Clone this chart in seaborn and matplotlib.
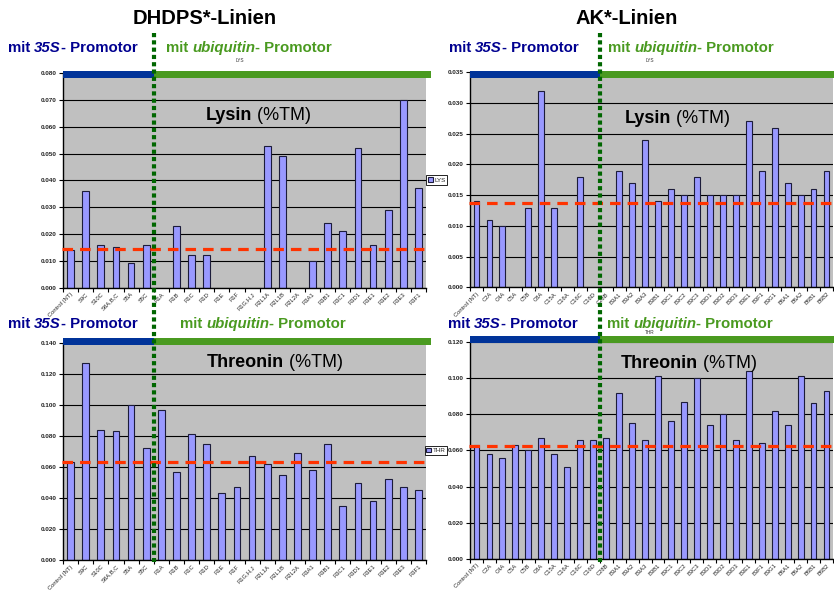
import numpy as np
import pandas as pd
import matplotlib
matplotlib.use("Agg")
import matplotlib.pyplot as plt
import matplotlib.transforms as mtransforms
from matplotlib.lines import Line2D
from matplotlib.patches import Patch
import seaborn as sns

# ---------------- data ----------------
dhdps_lines = ["Control (NT)", "S9C", "S10C", "S8A,B,C", "S5A", "S5C",
               "R1A", "R1B", "R1C", "R1D", "R1E", "R1F", "R1G,H,J",
               "R2L1A", "R2L1B", "R2L2A", "R3A1", "R3B1", "R3C1", "R3D1",
               "R3E1", "R3E2", "R3E3", "R3F1"]
dhdps_lys = [0.014, 0.036, 0.016, 0.015, 0.009, 0.016,
             np.nan, 0.023, 0.012, 0.012, np.nan, np.nan, np.nan,
             0.053, 0.049, np.nan, 0.010, 0.024, 0.021, 0.052,
             0.016, 0.029, 0.070, 0.037]
dhdps_thr = [0.063, 0.127, 0.084, 0.083, 0.100, 0.072,
             0.097, 0.057, 0.081, 0.075, 0.043, 0.047, 0.067,
             0.062, 0.055, 0.069, 0.058, 0.075, 0.035, 0.050,
             0.038, 0.052, 0.047, 0.045]

ak_lines = ["Control (NT)", "C2A", "C4A", "C5A", "C5B", "C8A", "C15A",
            "C16A", "C16C", "C16D", "C28B", "B3A1", "B3A2", "B3A3", "B3B1",
            "B3C1", "B3C2", "B3C3", "B3D1", "B3D2", "B3D3", "B3E1", "B3F1",
            "B3G1", "B6A1", "B6A2", "B6B1", "B6B2"]
ak_lys = [0.014, 0.011, 0.010, np.nan, 0.013, 0.032, 0.013,
          np.nan, 0.018, np.nan, np.nan, 0.019, 0.017, 0.024, 0.014,
          0.016, 0.015, 0.018, 0.015, 0.015, 0.015, 0.027, 0.019,
          0.026, 0.017, 0.015, 0.016, 0.019]
ak_thr = [0.063, 0.058, 0.056, 0.063, 0.060, 0.067, 0.058,
          0.051, 0.066, 0.066, 0.067, 0.092, 0.075, 0.066, 0.101,
          0.076, 0.087, 0.100, 0.074, 0.080, 0.066, 0.104, 0.064,
          0.082, 0.074, 0.101, 0.086, 0.093]

# control reference levels (dashed lines)
ref_dhdps_lys = 0.0143
ref_dhdps_thr = 0.063
ref_ak_lys = 0.0138
ref_ak_thr = 0.0625

# boundary between 35S lines (incl. control) and ubiquitin lines
split_dhdps = 5.5
split_ak = 9.5

# ---------------- style ----------------
W, H = 834, 592
FONT = "Liberation Sans"
sns.set_theme(style="white")
plt.rcParams["font.family"] = [FONT, "DejaVu Sans"]

BAR = "#9999ff"
BAR_EDGE = "#1c1c3a"
PLOT_BG = "#c0c0c0"
BLUE_BAND = "#003399"
GREEN_BAND = "#4a9a20"
BLUE_TXT = "#000090"
GREEN_TXT = "#4a9a20"
REF_RED = "#ff3300"
DOT_GREEN = "#006600"

fig = plt.figure(figsize=(W / 100, H / 100), dpi=100)
fig.patch.set_facecolor("white")


def px_axes(x0, y0, x1, y1):
    """axes from pixel box (top-left origin)"""
    return fig.add_axes([x0 / W, 1 - y1 / H, (x1 - x0) / W, (y1 - y0) / H])


def bar_panel(ax, names, values, ymax, step, ref, split, leg_label=None,
              band=(0.978, 1.01)):
    df = pd.DataFrame({"line": names, "value": values})
    sns.barplot(data=df, x="line", y="value", order=names, ax=ax,
                color=BAR, edgecolor=BAR_EDGE, linewidth=0.8, width=0.45,
                errorbar=None, saturation=1)
    n = len(names)
    ax.set_facecolor(PLOT_BG)
    ax.set_xlim(-0.5, n - 0.5)
    ax.set_ylim(0, ymax)
    ticks = np.arange(0, ymax + step / 2, step)
    ax.set_yticks(ticks)
    ax.set_yticklabels([f"{t:.3f}" for t in ticks], fontsize=4.6,
                       fontweight="bold")
    ax.set_xticks(range(n))
    ax.set_xticklabels(names, rotation=45, ha="right", rotation_mode="anchor",
                       fontsize=4.2)
    ax.set_xticks(np.arange(-0.5, n, 1.0), minor=True)
    ax.tick_params(axis="x", which="major", length=0, pad=3)
    ax.tick_params(axis="x", which="minor", length=3, width=0.8,
                   direction="out", color="black", bottom=True)
    ax.tick_params(axis="y", length=3, width=0.8, direction="out",
                   color="black", left=True, pad=1.5)
    ax.set_xlabel("")
    ax.set_ylabel("")
    ax.yaxis.grid(True, color="black", linewidth=0.8)
    ax.set_axisbelow(True)
    for s in ("top", "right"):
        ax.spines[s].set_visible(False)
    for s in ("left", "bottom"):
        ax.spines[s].set_color("black")
        ax.spines[s].set_linewidth(1.0)
    # promoter bands along the top
    ax.axvspan(-0.5, split, ymin=band[0], ymax=band[1], color=BLUE_BAND,
               clip_on=False, zorder=5, lw=0)
    ax.axvspan(split, n - 0.5 + 0.3, ymin=band[0], ymax=band[1],
               color=GREEN_BAND, clip_on=False, zorder=5, lw=0)
    # control reference, running slightly past both ends of the plot area
    tr = mtransforms.blended_transform_factory(ax.transAxes, ax.transData)
    ax.add_line(Line2D([-0.004, 1.012], [ref, ref], transform=tr,
                       color=REF_RED, linewidth=2.3,
                       linestyle=(0, (3.3, 2.2)), dash_capstyle="butt",
                       zorder=4, clip_on=False))
    if leg_label:
        leg = ax.legend(handles=[Patch(facecolor=BAR, edgecolor=BAR_EDGE,
                                       linewidth=0.8)],
                        labels=[leg_label], loc="center right",
                        bbox_to_anchor=(-0.062, 0.5), fontsize=4.5,
                        frameon=True, fancybox=False, framealpha=1,
                        handlelength=0.8, handleheight=0.8, handletextpad=0.2,
                        borderpad=0.3, borderaxespad=0)
        leg.get_frame().set_edgecolor("black")
        leg.get_frame().set_linewidth(0.6)


ax_dl = px_axes(63, 73.3, 426, 287.5)
ax_dt = px_axes(63, 343, 426, 560)
ax_al = px_axes(470, 72.3, 833, 287.4)
ax_at = px_axes(470, 342, 833, 558.8)

bar_panel(ax_dl, dhdps_lines, dhdps_lys, 0.080, 0.010, ref_dhdps_lys,
          split_dhdps, band=(0.979, 1.011))
bar_panel(ax_dt, dhdps_lines, dhdps_thr, 0.140, 0.020, ref_dhdps_thr,
          split_dhdps, band=(0.991, 1.022))
bar_panel(ax_al, ak_lines, ak_lys, 0.035, 0.005, ref_ak_lys, split_ak,
          leg_label="LYS", band=(0.975, 1.008))
bar_panel(ax_at, ak_lines, ak_thr, 0.120, 0.020, ref_ak_thr, split_ak,
          leg_label="THR", band=(0.994, 1.028))

# ---------------- dotted separators between promoter groups ----------------
for ax, split in ((ax_dl, split_dhdps), (ax_al, split_ak)):
    tr = mtransforms.blended_transform_factory(ax.transData, fig.transFigure)
    fig.add_artist(Line2D([split, split], [1 - 33 / H, 1 - 562 / H],
                          transform=tr, color=DOT_GREEN, linewidth=3.0,
                          linestyle=(0, (1.0, 0.75)), dash_capstyle="butt",
                          zorder=10))

# ---------------- text helpers ----------------
renderer = fig.canvas.get_renderer()


def run_width(text, **kw):
    """advance width of a text run in pixels (spaces included)"""
    a = fig.text(0, 0, "x" + text + "x", **kw)
    b = fig.text(0, 0, "xx", **kw)
    w = a.get_window_extent(renderer).width - b.get_window_extent(renderer).width
    a.remove()
    b.remove()
    return w


def draw_runs(x_px, base_px, runs, size, color, center=False):
    widths = [run_width(t, fontsize=size, fontweight=wt, fontstyle=st,
                        family=FONT) for t, wt, st in runs]
    x = x_px - sum(widths) / 2 if center else x_px
    for (t, wt, st), w in zip(runs, widths):
        fig.text(x / W, 1 - base_px / H, t, fontsize=size, fontweight=wt,
                 fontstyle=st, color=color, family=FONT, ha="left",
                 va="baseline", zorder=12)
        x += w


# column headings
draw_runs(205, 23.5, [("DHDPS*-Linien", "bold", "normal")], 14.5, "black",
          center=True)
draw_runs(627, 23.5, [("AK*-Linien", "bold", "normal")], 14.5, "black",
          center=True)

# promoter captions above each panel
s35 = [("mit ", "bold", "normal"), ("35S", "bold", "italic"),
       ("- Promotor", "bold", "normal")]
ubi = [("mit ", "bold", "normal"), ("ubiquitin", "bold", "italic"),
       ("- Promotor", "bold", "normal")]
for xb, xg, base in ((8, 166, 52.3), (449, 608, 52.3),
                     (8, 180, 328.3), (448, 607, 328.3)):
    draw_runs(xb, base, s35, 10.8, BLUE_TXT)
    draw_runs(xg, base, ubi, 10.8, GREEN_TXT)

# small series tags in the gap between caption and band
for x, y, t in ((240, 61, "LYS"), (650, 61, "LYS"), (650, 332.5, "THR")):
    fig.text(x / W, 1 - y / H, t, fontsize=3.4, color="#333333", family=FONT,
             ha="center", va="center", zorder=13)

# panel titles
for cx, base, name in ((258, 120, "Lysin"), (677.5, 123.3, "Lysin"),
                       (275, 366.7, "Threonin"), (689, 368.3, "Threonin")):
    draw_runs(cx, base, [(name, "bold", "normal"), (" (%TM)", "normal", "normal")],
              13, "black", center=True)

fig.savefig("out.png", dpi=100, facecolor="white")
